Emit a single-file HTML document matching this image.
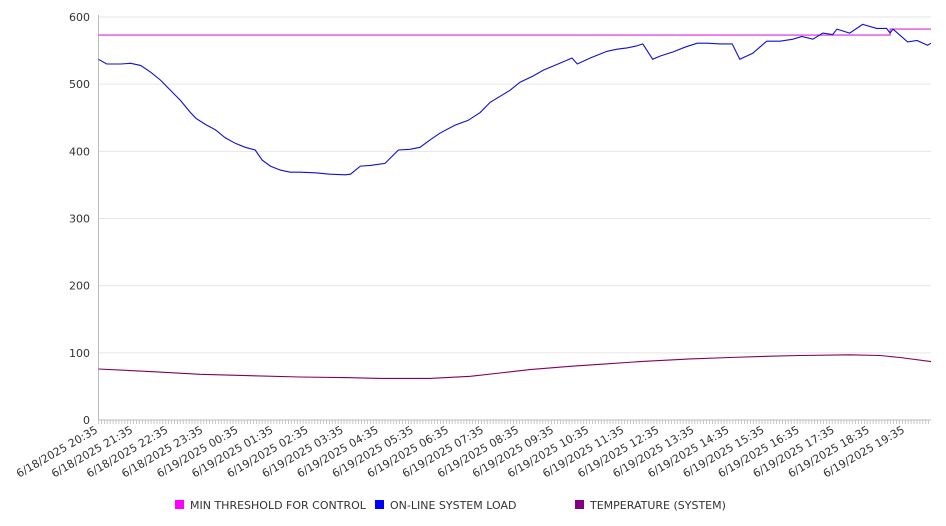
<!DOCTYPE html>
<html><head><meta charset="utf-8"><style>
html,body{margin:0;padding:0;background:#fff;}
svg{display:block;font-family:"DejaVu Sans","Liberation Sans",sans-serif;}
</style></head><body>
<svg id="chart" width="946" height="526" viewBox="0 0 946 526" xmlns="http://www.w3.org/2000/svg">
<g id="grid"></g>
<g id="yaxis"></g>
<g id="xaxis"></g>
<g id="series"></g>
<g id="legend" font-size="11" fill="#333">
  <rect x="175" y="500" width="9" height="9" fill="#ff00ff"/>
  <text x="190" y="509">MIN THRESHOLD FOR CONTROL</text>
  <rect x="375" y="500" width="9" height="9" fill="#0000ff"/>
  <text x="390" y="509">ON-LINE SYSTEM LOAD</text>
  <rect x="575" y="500" width="9" height="9" fill="#800080"/>
  <text x="590" y="509">TEMPERATURE (SYSTEM)</text>
</g>
</svg>
<script>
const yTicks = [0,100,200,300,400,500,600];
const xLabels = ["6/18/2025 20:35","6/18/2025 21:35","6/18/2025 22:35","6/18/2025 23:35","6/19/2025 00:35","6/19/2025 01:35","6/19/2025 02:35","6/19/2025 03:35","6/19/2025 04:35","6/19/2025 05:35","6/19/2025 06:35","6/19/2025 07:35","6/19/2025 08:35","6/19/2025 09:35","6/19/2025 10:35","6/19/2025 11:35","6/19/2025 12:35","6/19/2025 13:35","6/19/2025 14:35","6/19/2025 15:35","6/19/2025 16:35","6/19/2025 17:35","6/19/2025 18:35","6/19/2025 19:35"];
const loadMinutes = [0,14,38,55,72,89,106,123,140,157,167,183,200,217,234,251,268,280,294,311,328,345,371,396,422,431,448,465,490,513,533,550,567,584,610,632,653,670,687,704,721,743,761,778,810,819,841,870,887,904,921,931,948,961,983,1003,1024,1041,1063,1084,1097,1119,1143,1166,1188,1203,1222,1239,1256,1263,1285,1307,1331,1348,1354,1359,1384,1400,1418,1424];
const loadValues = [537,530,530,531,528,518,506,491,476,458,449,440,432,420,412,406,402,387,378,372,369,369,368,366,365,366,378,379,382,402,403,406,417,427,439,446,458,473,482,491,503,512,521,527,539,530,539,549,552,554,557,560,537,542,548,555,561,561,560,560,537,546,564,564,567,571,567,576,574,582,576,589,583,583,576,582,563,565,558,561];
const tempMinutes = [0,89,174,260,345,431,482,567,636,687,738,807,858,926,1012,1080,1149,1200,1285,1337,1371,1424];
const tempValues = [76,72,68,66,64,63,62,62,65,70,75,80,83,87,91,93,95,96,97,96,93,87];
const thresholdMinutes = [0,1354,1354,1424];
const thresholdValues = [573,573,582,582];

const X0=98.5, X1=931, Y0=420, Y1=17, MAXMIN=1424, MAXV=600;
const NS="http://www.w3.org/2000/svg";
function xs(m){return X0+(X1-X0)*m/MAXMIN;}
function ys(v){return Y0-(Y0-Y1)*v/MAXV;}
function mk(tag,attrs,parent){const e=document.createElementNS(NS,tag);for(const k in attrs)e.setAttribute(k,attrs[k]);parent.appendChild(e);return e;}
const grid=document.getElementById('grid'),yax=document.getElementById('yaxis'),xax=document.getElementById('xaxis'),ser=document.getElementById('series');
yTicks.forEach(v=>{
  if(v>0){const g=mk('line',{x1:X0,x2:X1,y1:ys(v),y2:ys(v),stroke:'#e6e6e6','stroke-width':1},grid);
  
  }
  const t=mk('text',{x:90,y:ys(v)+4,'text-anchor':'end','font-size':11,fill:'#333'},yax);
  
  
  t.textContent=v;
});
const ya=mk('line',{x1:X0,x2:X0,y1:Y1-2,y2:Y0,stroke:'#bbb'},yax);


const xa=mk('line',{x1:X0,x2:X1,y1:Y0,y2:Y0,stroke:'#bbb'},xax);


for(let m=0;m<=MAXMIN;m+=5){
  const tk=mk('line',{x1:xs(m),x2:xs(m),y1:Y0,y2:Y0+4,stroke:'#bbb','stroke-width':0.8},xax);
  
  
}
xLabels.forEach((l,i)=>{
  const x=xs(i*60);
  const t=mk('text',{x:x,y:Y0+12,'text-anchor':'end','font-size':11,fill:'#333',transform:`rotate(-30 ${x} ${Y0+12})`},xax);
  
  
  t.textContent=l;
});
function line(ms,vs,color,name){
  const d=ms.map((m,i)=>(i?'L':'M')+xs(m).toFixed(1)+','+ys(vs[i]).toFixed(1)).join('');
  const p=mk('path',{d:d,fill:'none',stroke:color,'stroke-width':1.1},ser);
  
  
}
line(thresholdMinutes,thresholdValues,'#e020e0','threshold-line');
line(tempMinutes,tempValues,'#800060','temperature-line');
line(loadMinutes,loadValues,'#1010d0','load-line');
</script>
</body></html>
